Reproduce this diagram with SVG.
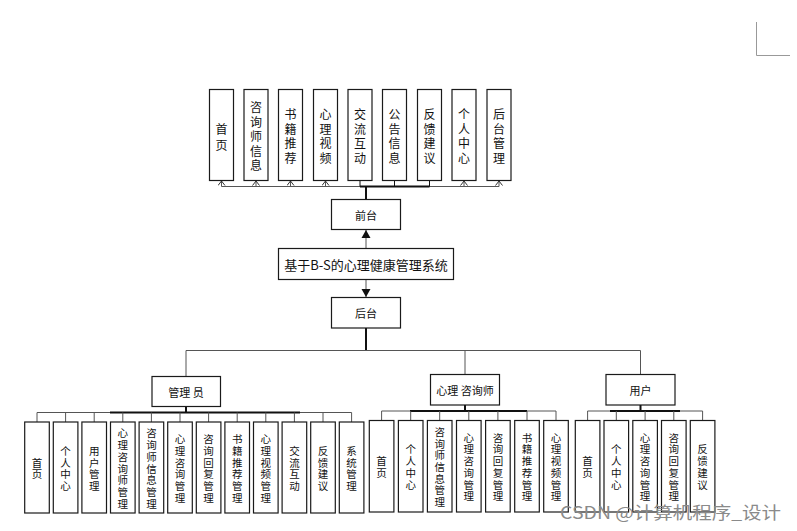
<svg xmlns="http://www.w3.org/2000/svg" width="797" height="531" viewBox="0 0 797 531">
<style>
.b{fill:#fff;stroke:#1a1a1a;stroke-width:1.2}
.l{fill:none;stroke:#111;stroke-width:1}
.t{fill:none;stroke:#111;stroke-width:2}
.g{fill:none;stroke:#555;stroke-width:1}
text{font-family:"Microsoft YaHei","Noto Sans CJK SC","Liberation Sans",sans-serif;fill:#111}
.v{font-size:12px;text-anchor:middle;dominant-baseline:central}
.s{font-size:10.5px;text-anchor:middle;dominant-baseline:central}
.c{font-size:11px;text-anchor:middle;dominant-baseline:central}
</style>
<defs>
<marker id="oa" markerWidth="8" markerHeight="8" refX="0" refY="0" orient="auto" markerUnits="userSpaceOnUse" viewBox="-6 -4 8 8">
<path d="M-4.5,-3.5 L0,0 L-4.5,3.5" fill="none" stroke="#333" stroke-width="1"/>
</marker>
<marker id="fa" markerWidth="10" markerHeight="10" refX="0" refY="0" orient="auto" markerUnits="userSpaceOnUse" viewBox="-9 -5 10 10">
<path d="M0,0 L-8,-4.5 L-8,4.5 Z" fill="#111"/>
</marker>
</defs>

<g id="connectors">
<line class="g" x1="221.5" y1="186.5" x2="499" y2="186.5"/>
<line class="t" x1="360" y1="186.5" x2="429.5" y2="186.5"/>
<line class="t" x1="366" y1="199.5" x2="366" y2="186"/>
<line class="g" x1="221.5" y1="186.5" x2="221.5" y2="181" marker-end="url(#oa)"/>
<line class="g" x1="256" y1="186.5" x2="256" y2="181" marker-end="url(#oa)"/>
<line class="g" x1="290.5" y1="186.5" x2="290.5" y2="181" marker-end="url(#oa)"/>
<line class="g" x1="325.5" y1="186.5" x2="325.5" y2="181" marker-end="url(#oa)"/>
<line class="l" x1="360" y1="186.5" x2="360" y2="180.5"/>
<line class="l" x1="394.5" y1="186.5" x2="394.5" y2="180.5"/>
<line class="l" x1="429.5" y1="186.5" x2="429.5" y2="180.5"/>
<line class="g" x1="464" y1="186.5" x2="464" y2="181" marker-end="url(#oa)"/>
<line class="g" x1="499" y1="186.5" x2="499" y2="181" marker-end="url(#oa)"/>
<line class="g" x1="366" y1="248.5" x2="366" y2="230" stroke-width="1.5" marker-end="url(#fa)"/>
<line class="g" x1="366" y1="279.5" x2="366" y2="297" stroke-width="1.5" marker-end="url(#fa)"/>
<line class="t" x1="366" y1="328" x2="366" y2="350.5"/>
<polyline class="g" points="186,376.5 186,350.5 640.5,350.5 640.5,374.5"/>
<line class="g" x1="465" y1="350.5" x2="465" y2="374.5"/>
<line class="t" x1="186" y1="406.5" x2="186" y2="412.5"/>
<line class="g" x1="37" y1="412.5" x2="351.6" y2="412.5"/>
<line class="t" x1="110" y1="412.5" x2="300" y2="412.5"/>
<g class="g">
<line x1="37" y1="412.5" x2="37" y2="422"/>
<line x1="65.6" y1="412.5" x2="65.6" y2="422"/>
<line x1="94.2" y1="412.5" x2="94.2" y2="422"/>
<line x1="122.8" y1="412.5" x2="122.8" y2="422"/>
<line x1="151.4" y1="412.5" x2="151.4" y2="422"/>
<line x1="180" y1="412.5" x2="180" y2="422"/>
<line x1="208.6" y1="412.5" x2="208.6" y2="422"/>
<line x1="237.2" y1="412.5" x2="237.2" y2="422"/>
<line x1="265.8" y1="412.5" x2="265.8" y2="422"/>
<line x1="294.4" y1="412.5" x2="294.4" y2="422"/>
<line x1="323" y1="412.5" x2="323" y2="422"/>
<line x1="351.6" y1="412.5" x2="351.6" y2="422"/>
</g>
<line class="t" x1="465" y1="405" x2="465" y2="411"/>
<line class="g" x1="381.6" y1="411" x2="556" y2="411"/>
<line class="t" x1="410" y1="411" x2="527" y2="411"/>
<g class="g">
<line x1="381.6" y1="411" x2="381.6" y2="420.5"/>
<line x1="410.7" y1="411" x2="410.7" y2="420.5"/>
<line x1="439.7" y1="411" x2="439.7" y2="420.5"/>
<line x1="468.8" y1="411" x2="468.8" y2="420.5"/>
<line x1="497.9" y1="411" x2="497.9" y2="420.5"/>
<line x1="527" y1="411" x2="527" y2="420.5"/>
<line x1="556" y1="411" x2="556" y2="420.5"/>
</g>
<line class="t" x1="640.5" y1="405" x2="640.5" y2="411"/>
<line class="g" x1="587.6" y1="411" x2="702.6" y2="411"/>
<line class="t" x1="610" y1="411" x2="680" y2="411"/>
<g class="g">
<line x1="587.6" y1="411" x2="587.6" y2="420.5"/>
<line x1="616.3" y1="411" x2="616.3" y2="420.5"/>
<line x1="645.1" y1="411" x2="645.1" y2="420.5"/>
<line x1="673.8" y1="411" x2="673.8" y2="420.5"/>
<line x1="702.6" y1="411" x2="702.6" y2="420.5"/>
</g>
</g>

<g id="f1"><rect class="b" x="209.5" y="89.5" width="24" height="91"/><text class="v"><tspan x="221.5" y="127.5">首</tspan><tspan x="221.5" y="143.5">页</tspan></text></g>
<g id="f2"><rect class="b" x="244" y="89.5" width="24" height="91"/><text class="v"><tspan x="256" y="106">咨</tspan><tspan x="256" y="120.5">询</tspan><tspan x="256" y="135">师</tspan><tspan x="256" y="149.5">信</tspan><tspan x="256" y="164">息</tspan></text></g>
<g id="f3"><rect class="b" x="278.5" y="89.5" width="24" height="91"/><text class="v"><tspan x="290.5" y="113.25">书</tspan><tspan x="290.5" y="127.75">籍</tspan><tspan x="290.5" y="142.25">推</tspan><tspan x="290.5" y="156.75">荐</tspan></text></g>
<g id="f4"><rect class="b" x="313.5" y="89.5" width="24" height="91"/><text class="v"><tspan x="325.5" y="113.25">心</tspan><tspan x="325.5" y="127.75">理</tspan><tspan x="325.5" y="142.25">视</tspan><tspan x="325.5" y="156.75">频</tspan></text></g>
<g id="f5"><rect class="b" x="348" y="89.5" width="24" height="91"/><text class="v"><tspan x="360" y="113.25">交</tspan><tspan x="360" y="127.75">流</tspan><tspan x="360" y="142.25">互</tspan><tspan x="360" y="156.75">动</tspan></text></g>
<g id="f6"><rect class="b" x="382.5" y="89.5" width="24" height="91"/><text class="v"><tspan x="394.5" y="113.25">公</tspan><tspan x="394.5" y="127.75">告</tspan><tspan x="394.5" y="142.25">信</tspan><tspan x="394.5" y="156.75">息</tspan></text></g>
<g id="f7"><rect class="b" x="417.5" y="89.5" width="24" height="91"/><text class="v"><tspan x="429.5" y="113.25">反</tspan><tspan x="429.5" y="127.75">馈</tspan><tspan x="429.5" y="142.25">建</tspan><tspan x="429.5" y="156.75">议</tspan></text></g>
<g id="f8"><rect class="b" x="452" y="89.5" width="24" height="91"/><text class="v"><tspan x="464" y="113.25">个</tspan><tspan x="464" y="127.75">人</tspan><tspan x="464" y="142.25">中</tspan><tspan x="464" y="156.75">心</tspan></text></g>
<g id="f9"><rect class="b" x="487" y="89.5" width="24" height="91"/><text class="v"><tspan x="499" y="113.25">后</tspan><tspan x="499" y="127.75">台</tspan><tspan x="499" y="142.25">管</tspan><tspan x="499" y="156.75">理</tspan></text></g>

<g id="qiantai"><rect class="b" x="331.5" y="199.5" width="69" height="30"/><text class="c" x="366" y="214.5">前台</text></g>
<g id="title"><rect class="b" x="278.5" y="248.5" width="175" height="31"/><text x="366" y="264" font-size="13" text-anchor="middle" dominant-baseline="central">基于B-S的心理健康管理系统</text></g>
<g id="houtai"><rect class="b" x="331.5" y="297.5" width="69" height="30.5"/><text class="c" x="366" y="312.5">后台</text></g>

<g id="admin"><rect class="b" x="152" y="376.5" width="68.5" height="30"/><text class="c" x="186" y="391.5">管理 员</text></g>
<g id="counselor"><rect class="b" x="430.5" y="374.5" width="69" height="30.5"/><text class="c" x="465" y="389.5">心理 咨询师</text></g>
<g id="user"><rect class="b" x="606" y="374.5" width="69" height="30.5"/><text class="c" x="640.5" y="389.5">用户</text></g>

<g id="a1"><rect class="b" x="24.7" y="422" width="24.6" height="91"/><text class="s"><tspan x="37" y="461.65">首</tspan><tspan x="37" y="473.35">页</tspan></text></g>
<g id="a2"><rect class="b" x="53.3" y="422" width="24.6" height="91"/><text class="s"><tspan x="65.6" y="449.95">个</tspan><tspan x="65.6" y="461.65">人</tspan><tspan x="65.6" y="473.35">中</tspan><tspan x="65.6" y="485.05">心</tspan></text></g>
<g id="a3"><rect class="b" x="81.9" y="422" width="24.6" height="91"/><text class="s"><tspan x="94.2" y="449.95">用</tspan><tspan x="94.2" y="461.65">户</tspan><tspan x="94.2" y="473.35">管</tspan><tspan x="94.2" y="485.05">理</tspan></text></g>
<g id="a4"><rect class="b" x="110.5" y="422" width="24.6" height="91"/><text class="s"><tspan x="122.8" y="432.4">心</tspan><tspan x="122.8" y="444.1">理</tspan><tspan x="122.8" y="455.8">咨</tspan><tspan x="122.8" y="467.5">询</tspan><tspan x="122.8" y="479.2">师</tspan><tspan x="122.8" y="490.9">管</tspan><tspan x="122.8" y="502.6">理</tspan></text></g>
<g id="a5"><rect class="b" x="139.1" y="422" width="24.6" height="91"/><text class="s"><tspan x="151.4" y="432.4">咨</tspan><tspan x="151.4" y="444.1">询</tspan><tspan x="151.4" y="455.8">师</tspan><tspan x="151.4" y="467.5">信</tspan><tspan x="151.4" y="479.2">息</tspan><tspan x="151.4" y="490.9">管</tspan><tspan x="151.4" y="502.6">理</tspan></text></g>
<g id="a6"><rect class="b" x="167.7" y="422" width="24.6" height="91"/><text class="s"><tspan x="180" y="438.25">心</tspan><tspan x="180" y="449.95">理</tspan><tspan x="180" y="461.65">咨</tspan><tspan x="180" y="473.35">询</tspan><tspan x="180" y="485.05">管</tspan><tspan x="180" y="496.75">理</tspan></text></g>
<g id="a7"><rect class="b" x="196.3" y="422" width="24.6" height="91"/><text class="s"><tspan x="208.6" y="438.25">咨</tspan><tspan x="208.6" y="449.95">询</tspan><tspan x="208.6" y="461.65">回</tspan><tspan x="208.6" y="473.35">复</tspan><tspan x="208.6" y="485.05">管</tspan><tspan x="208.6" y="496.75">理</tspan></text></g>
<g id="a8"><rect class="b" x="224.9" y="422" width="24.6" height="91"/><text class="s"><tspan x="237.2" y="438.25">书</tspan><tspan x="237.2" y="449.95">籍</tspan><tspan x="237.2" y="461.65">推</tspan><tspan x="237.2" y="473.35">荐</tspan><tspan x="237.2" y="485.05">管</tspan><tspan x="237.2" y="496.75">理</tspan></text></g>
<g id="a9"><rect class="b" x="253.5" y="422" width="24.6" height="91"/><text class="s"><tspan x="265.8" y="438.25">心</tspan><tspan x="265.8" y="449.95">理</tspan><tspan x="265.8" y="461.65">视</tspan><tspan x="265.8" y="473.35">频</tspan><tspan x="265.8" y="485.05">管</tspan><tspan x="265.8" y="496.75">理</tspan></text></g>
<g id="a10"><rect class="b" x="282.1" y="422" width="24.6" height="91"/><text class="s"><tspan x="294.4" y="449.95">交</tspan><tspan x="294.4" y="461.65">流</tspan><tspan x="294.4" y="473.35">互</tspan><tspan x="294.4" y="485.05">动</tspan></text></g>
<g id="a11"><rect class="b" x="310.7" y="422" width="24.6" height="91"/><text class="s"><tspan x="323" y="449.95">反</tspan><tspan x="323" y="461.65">馈</tspan><tspan x="323" y="473.35">建</tspan><tspan x="323" y="485.05">议</tspan></text></g>
<g id="a12"><rect class="b" x="339.3" y="422" width="24.6" height="91"/><text class="s"><tspan x="351.6" y="449.95">系</tspan><tspan x="351.6" y="461.65">统</tspan><tspan x="351.6" y="473.35">管</tspan><tspan x="351.6" y="485.05">理</tspan></text></g>

<g id="c1"><rect class="b" x="369.3" y="420.5" width="24.6" height="91.5"/><text class="s"><tspan x="381.6" y="460.15">首</tspan><tspan x="381.6" y="471.85">页</tspan></text></g>
<g id="c2"><rect class="b" x="398.4" y="420.5" width="24.6" height="91.5"/><text class="s"><tspan x="410.7" y="448.45">个</tspan><tspan x="410.7" y="460.15">人</tspan><tspan x="410.7" y="471.85">中</tspan><tspan x="410.7" y="483.55">心</tspan></text></g>
<g id="c3"><rect class="b" x="427.4" y="420.5" width="24.6" height="91.5"/><text class="s"><tspan x="439.7" y="430.9">咨</tspan><tspan x="439.7" y="442.6">询</tspan><tspan x="439.7" y="454.3">师</tspan><tspan x="439.7" y="466">信</tspan><tspan x="439.7" y="477.7">息</tspan><tspan x="439.7" y="489.4">管</tspan><tspan x="439.7" y="501.1">理</tspan></text></g>
<g id="c4"><rect class="b" x="456.5" y="420.5" width="24.6" height="91.5"/><text class="s"><tspan x="468.8" y="436.75">心</tspan><tspan x="468.8" y="448.45">理</tspan><tspan x="468.8" y="460.15">咨</tspan><tspan x="468.8" y="471.85">询</tspan><tspan x="468.8" y="483.55">管</tspan><tspan x="468.8" y="495.25">理</tspan></text></g>
<g id="c5"><rect class="b" x="485.6" y="420.5" width="24.6" height="91.5"/><text class="s"><tspan x="497.9" y="436.75">咨</tspan><tspan x="497.9" y="448.45">询</tspan><tspan x="497.9" y="460.15">回</tspan><tspan x="497.9" y="471.85">复</tspan><tspan x="497.9" y="483.55">管</tspan><tspan x="497.9" y="495.25">理</tspan></text></g>
<g id="c6"><rect class="b" x="514.7" y="420.5" width="24.6" height="91.5"/><text class="s"><tspan x="527" y="436.75">书</tspan><tspan x="527" y="448.45">籍</tspan><tspan x="527" y="460.15">推</tspan><tspan x="527" y="471.85">荐</tspan><tspan x="527" y="483.55">管</tspan><tspan x="527" y="495.25">理</tspan></text></g>
<g id="c7"><rect class="b" x="543.7" y="420.5" width="24.6" height="91.5"/><text class="s"><tspan x="556" y="436.75">心</tspan><tspan x="556" y="448.45">理</tspan><tspan x="556" y="460.15">视</tspan><tspan x="556" y="471.85">频</tspan><tspan x="556" y="483.55">管</tspan><tspan x="556" y="495.25">理</tspan></text></g>

<g id="u1"><rect class="b" x="575.3" y="420.5" width="24.6" height="91.5"/><text class="s"><tspan x="587.6" y="460.15">首</tspan><tspan x="587.6" y="471.85">页</tspan></text></g>
<g id="u2"><rect class="b" x="604" y="420.5" width="24.6" height="91.5"/><text class="s"><tspan x="616.3" y="448.45">个</tspan><tspan x="616.3" y="460.15">人</tspan><tspan x="616.3" y="471.85">中</tspan><tspan x="616.3" y="483.55">心</tspan></text></g>
<g id="u3"><rect class="b" x="632.8" y="420.5" width="24.6" height="91.5"/><text class="s"><tspan x="645.1" y="436.75">心</tspan><tspan x="645.1" y="448.45">理</tspan><tspan x="645.1" y="460.15">咨</tspan><tspan x="645.1" y="471.85">询</tspan><tspan x="645.1" y="483.55">管</tspan><tspan x="645.1" y="495.25">理</tspan></text></g>
<g id="u4"><rect class="b" x="661.5" y="420.5" width="24.6" height="91.5"/><text class="s"><tspan x="673.8" y="436.75">咨</tspan><tspan x="673.8" y="448.45">询</tspan><tspan x="673.8" y="460.15">回</tspan><tspan x="673.8" y="471.85">复</tspan><tspan x="673.8" y="483.55">管</tspan><tspan x="673.8" y="495.25">理</tspan></text></g>
<g id="u5"><rect class="b" x="690.3" y="420.5" width="24.6" height="91.5"/><text class="s"><tspan x="702.6" y="448.45">反</tspan><tspan x="702.6" y="460.15">馈</tspan><tspan x="702.6" y="471.85">建</tspan><tspan x="702.6" y="483.55">议</tspan></text></g>

<polyline points="756.5,22 756.5,55.5 790,55.5" fill="none" stroke="#999" stroke-width="1"/>

<text x="560" y="519" font-size="17" textLength="221" lengthAdjust="spacingAndGlyphs" style="fill:#8a8a8a">CSDN @计算机程序_设计</text>
</svg>
